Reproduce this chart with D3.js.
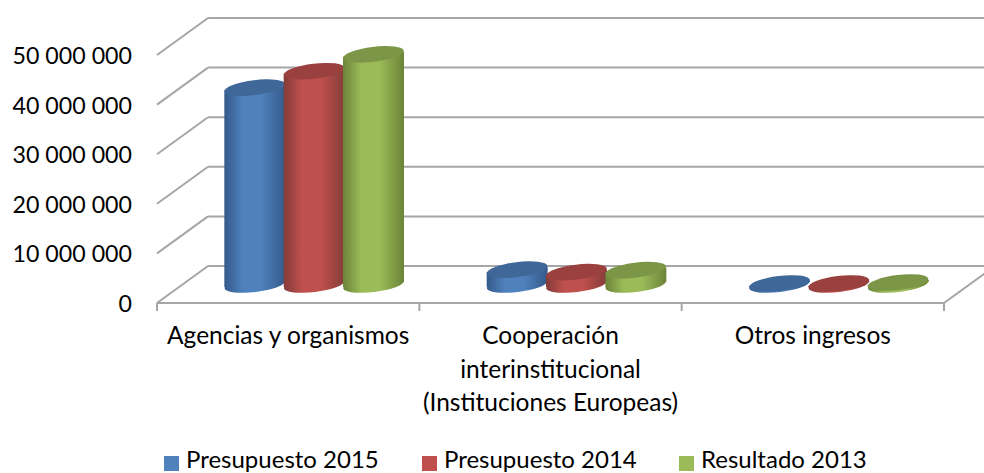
<!DOCTYPE html>
<html><head><meta charset="utf-8">
<script src="https://cdn.jsdelivr.net/npm/d3@7/dist/d3.min.js"></script>
<style>html,body{margin:0;padding:0;background:#fff}svg{display:block}text{font-family:Lato,"Open Sans",sans-serif;fill:#000}</style>
</head><body><svg id="c" width="984" height="473"></svg>
<script>
const categories = ["Agencias y organismos", "Cooperación|interinstitucional|(Instituciones Europeas)", "Otros ingresos"];
const seriesNames = ["Presupuesto 2015", "Presupuesto 2014", "Resultado 2013"];
const presupuesto2015 = [39700000, 3000000, 200000];
const presupuesto2014 = [43000000, 2500000, 200000];
const resultado2013 = [46400000, 2900000, 400000];
const seriesValues = [presupuesto2015, presupuesto2014, resultado2013];
const yTicks = [0, 10000000, 20000000, 30000000, 40000000, 50000000];
const colors = ["#4F81BD", "#C0504D", "#9BBB59"];
const topColors = ["#3F6797", "#9A403E", "#7C9647"];
const edgeColors = ["#345a8a", "#843c39", "#6b8438"];

const svg = d3.select("#c");
const x = d3.scaleBand().domain(categories).range([157, 944]);
const y = d3.scaleLinear().domain([0, 50000000]).range([303, 55]);
const depthX = 51, depthY = -37;
const sub = d3.scaleBand().domain(d3.range(3)).range([-88.5, 89.5]);
const fmt = v => d3.format(",")(v).replace(/,/g, " ");
const grid = "#a6a6a6";

const defs = svg.append("defs");
colors.forEach((c, i) => {
  const g = defs.append("linearGradient").attr("id", "g" + i);
  g.append("stop").attr("offset", "0%").attr("stop-color", edgeColors[i]);
  g.append("stop").attr("offset", "30%").attr("stop-color", c);
  g.append("stop").attr("offset", "60%").attr("stop-color", c);
  g.append("stop").attr("offset", "100%").attr("stop-color", edgeColors[i]);
});

const line = (x1, y1, x2, y2) => svg.append("line").attr("x1", x1).attr("y1", y1).attr("x2", x2).attr("y2", y2)
  .attr("stroke", grid).attr("stroke-width", 2);

// walls and floor
yTicks.forEach(t => {
  line(157, y(t), 157 + depthX, y(t) + depthY);
  line(157 + depthX, y(t) + depthY, 1000, y(t) + depthY);
});
line(157, y(0), 944, y(0));
line(944, y(0), 944 + depthX, y(0) + depthY);
[...categories.map(c => x(c)), 944].forEach(px => line(px, y(0), px, y(0) + 8));

// y labels
svg.selectAll(".yl").data(yTicks).join("text").attr("class", "yl")
  .attr("x", 132).attr("y", d => y(d) + 9).attr("text-anchor", "end")
  .attr("font-size", 23.2).text(fmt);

// cylinders
const rx = 30.5, ry = 7.5, tilt = -7;
const ell = (sel, cx, cy) => sel.append("ellipse").attr("rx", rx).attr("ry", ry)
  .attr("transform", `translate(${cx},${cy}) rotate(${tilt})`);
categories.forEach((cat, ci) => {
  seriesValues.forEach((vals, si) => {
    const cx = x(cat) + x.bandwidth() / 2 + depthX / 2 + sub(si) + sub.bandwidth() / 2;
    const base = y(0) + depthY / 2;
    const top = y(vals[ci]) + depthY / 2;
    const dy = 2.5;
    ell(svg, cx, base).attr("fill", `url(#g${si})`);
    svg.append("path")
      .attr("d", `M${cx - rx},${top + dy}L${cx + rx},${top - dy}L${cx + rx},${base - dy}L${cx - rx},${base + dy}Z`)
      .attr("fill", `url(#g${si})`);
    ell(svg, cx, top).attr("fill", topColors[si]);
  });
});

// category labels
const lineY = [344, 377.5, 410.5];
categories.forEach(cat => {
  cat.split("|").forEach((s, i) => {
    svg.append("text").attr("x", x(cat) + x.bandwidth() / 2).attr("y", lineY[i])
      .attr("text-anchor", "middle").attr("font-size", 24.5).text(s);
  });
});

// legend
const legendX = [164, 422, 679];
seriesNames.forEach((n, i) => {
  svg.append("rect").attr("x", legendX[i]).attr("y", 456).attr("width", 15).attr("height", 15).attr("fill", colors[i]);
  svg.append("text").attr("x", legendX[i] + 22).attr("y", 468).attr("font-size", 24).text(n);
});
</script></body></html>
